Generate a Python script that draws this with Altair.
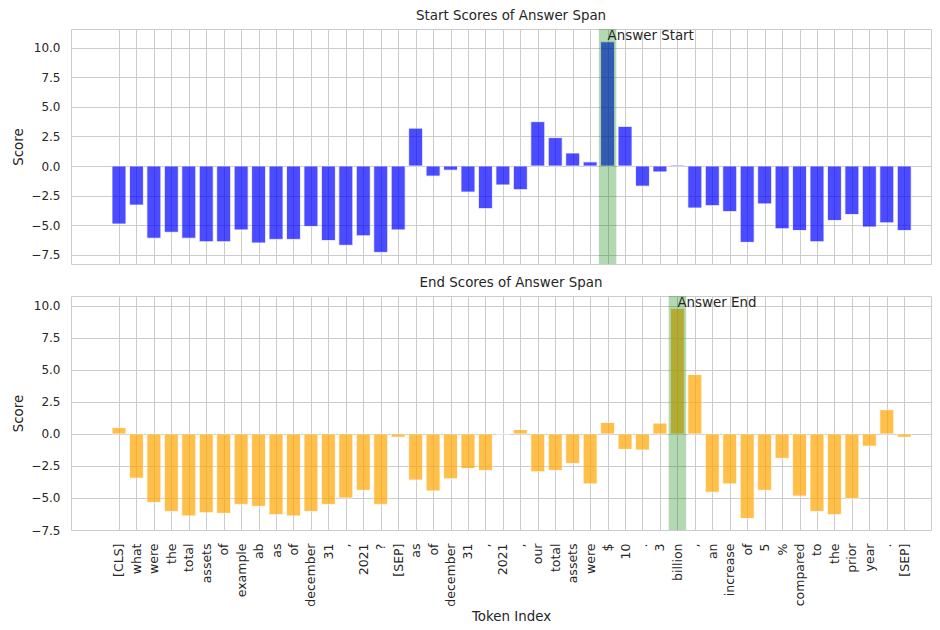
import json
import altair as alt
import pandas as pd

tokens = ["[CLS]", "what", "were", "the", "total", "assets", "of", "example", "ab", "as",
          "of", "december", "31", ",", "2021", "?", "[SEP]", "as", "of", "december",
          "31", ",", "2021", ",", "our", "total", "assets", "were", "$", "10",
          ".", "3", "billion", ",", "an", "increase", "of", "5", "%", "compared",
          "to", "the", "prior", "year", ".", "[SEP]"]

start_scores = [-4.9, -3.3, -6.1, -5.6, -6.1, -6.4, -6.4, -5.4, -6.5, -6.2,
                -6.2, -5.1, -6.3, -6.7, -5.9, -7.3, -5.4, 3.2, -0.85, -0.35,
                -2.2, -3.6, -1.6, -2.0, 3.75, 2.4, 1.1, 0.35, 10.5, 3.35,
                -1.7, -0.5, 0.08, -3.55, -3.35, -3.85, -6.45, -3.2, -5.3, -5.45,
                -6.4, -4.6, -4.1, -5.15, -4.8, -5.45]

end_scores = [0.5, -3.45, -5.35, -6.05, -6.4, -6.15, -6.2, -5.5, -5.65, -6.3,
              -6.4, -6.05, -5.5, -5.0, -4.4, -5.5, -0.25, -3.6, -4.45, -3.5,
              -2.7, -2.85, 0.0, 0.35, -2.95, -2.85, -2.3, -3.9, 0.9, -1.2,
              -1.25, 0.85, 9.8, 4.65, -4.55, -3.9, -6.6, -4.4, -1.9, -4.85,
              -6.05, -6.3, -5.05, -0.95, 1.9, -0.25]

answer_start = 28
answer_end = 32
y_ticks = [-7.5, -5.0, -2.5, 0.0, 2.5, 5.0, 7.5, 10.0]

n = len(tokens)
df = pd.DataFrame({"idx": list(range(n)), "token": tokens,
                   "start": start_scores, "end": end_scores})

W = 860
TXT = "#262626"
GRID = "#cccccc"
x_domain = [-2.75, -2.75 + W / 17.45]
label_expr = json.dumps(tokens) + "[datum.value]"


def panel(field, color, title, ans_idx, ans_label, y_domain, bottom, H):
    x_scale = alt.Scale(domain=x_domain, nice=False, zero=False)
    if bottom:
        x_axis = alt.Axis(values=list(range(n)), tickCount=n, labelExpr=label_expr,
                          labelAngle=-90, labelOverlap=False, labelBound=False,
                          labelFontSize=12.5, labelPadding=13, title="Token Index",
                          titleFontSize=13.4, titleFontWeight="normal", titlePadding=3,
                          titleX=440, grid=True, ticks=False, domain=False)
    else:
        x_axis = alt.Axis(values=list(range(n)), tickCount=n, labels=False, title=None,
                          grid=True, ticks=False, domain=False)
    y_axis = alt.Axis(values=y_ticks, tickCount=len(y_ticks), format=".1f",
                      labelOverlap=False, labelFontSize=12, labelPadding=11,
                      title="Score", titleFontSize=13.4, titleFontWeight="normal",
                      titlePadding=6, grid=True, ticks=False, domain=False,
                      minExtent=40, maxExtent=40)
    y_scale = alt.Scale(domain=y_domain, nice=False, zero=False)

    bars = alt.Chart(df).transform_calculate(
        x0="datum.idx - 0.4", x1="datum.idx + 0.4", zero="0"
    ).mark_bar(color=color, opacity=0.7, stroke="white", strokeWidth=0.8).encode(
        x=alt.X("x0:Q", scale=x_scale, axis=x_axis),
        x2="x1:Q",
        y=alt.Y(f"{field}:Q", scale=y_scale, axis=y_axis),
        y2="zero:Q",
    )

    span_df = pd.DataFrame({"a": [ans_idx]})
    span = alt.Chart(span_df).transform_calculate(
        lo="datum.a - 0.5", hi="datum.a + 0.5"
    ).mark_rect(color="green", opacity=0.3).encode(
        x="lo:Q", x2="hi:Q", y=alt.value(0), y2=alt.value(H)
    )

    vals = start_scores if field == "start" else end_scores
    txt_df = pd.DataFrame({"a": [ans_idx], "v": [vals[ans_idx]], "t": [ans_label]})
    text = alt.Chart(txt_df).mark_text(
        align="left", baseline="alphabetic", fontSize=13.4, color=TXT, dy=-2
    ).encode(x="a:Q", y="v:Q", text="t:N")

    return alt.layer(bars, span, text).properties(
        width=W, height=H,
        title=alt.TitleParams(title, fontSize=13.4, fontWeight="normal", color=TXT,
                              offset=6, dx=10),
    )


top = panel("start", "blue", "Start Scores of Answer Span", answer_start,
            "Answer Start", [-8.28, 11.58], False, 235)
bot = panel("end", "orange", "End Scores of Answer Span", answer_end,
            "Answer End", [-7.5, 10.78], True, 234)

chart = alt.vconcat(top, bot, spacing=10).properties(
    padding={"left": 2, "top": 0, "right": 0, "bottom": 0}
).configure(font="DejaVu Sans").configure_view(
    stroke=GRID, strokeWidth=1
).configure_axis(
    gridColor=GRID, gridWidth=1, labelColor=TXT, titleColor=TXT,
    labelFont="DejaVu Sans", titleFont="DejaVu Sans"
).configure_title(font="DejaVu Sans")

chart.save("out.html", embed_options={"renderer": "svg", "actions": False})
